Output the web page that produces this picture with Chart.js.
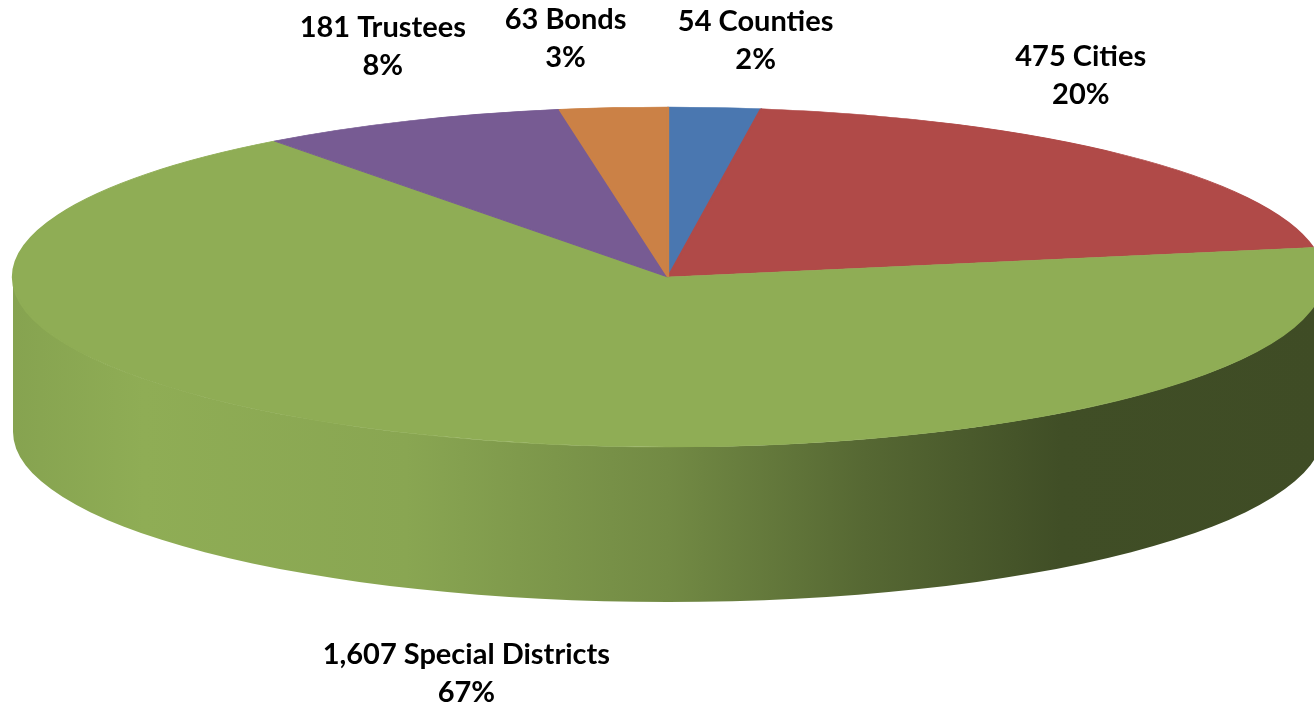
<!DOCTYPE html>
<html>
<head>
<meta charset="utf-8">
<script src="https://cdn.jsdelivr.net/npm/chart.js@4.4.0/dist/chart.umd.min.js"></script>
<style>
  html, body { margin: 0; padding: 0; background: #fff; }
</style>
</head>
<body>
<canvas id="pie" width="1314" height="709"></canvas>
<script>
const categories = ['Counties', 'Cities', 'Special Districts', 'Trustees', 'Bonds'];
const counts = [54, 475, 1607, 181, 63];
const countLabels = ['54', '475', '1,607', '181', '63'];
const percentLabels = ['2%', '20%', '67%', '8%', '3%'];
const sliceColors = ['#4a77b0', '#b04a48', '#8fad55', '#775b93', '#cb8146'];

// tilt of the 3d pie (ellipse radii and thickness)
const RX = 655, RY = 170, DEPTH = 155;
// where each label sits relative to the slice edge
const labelNudge = [[41, -67], [-43, -79], [39, 84], [-27, -74], [-48, -69]];
// side shading: position across the pie -> brightness factor
const sideShade = [[0, 0.94], [0.1, 1.0], [0.3, 0.96], [0.5, 0.8], [0.65, 0.6], [0.8, 0.45], [1, 0.44]];

function shade(hex, f) {
  const n = parseInt(hex.slice(1), 16);
  const c = [(n >> 16) & 255, (n >> 8) & 255, n & 255].map(v => Math.max(0, Math.min(255, Math.round(v * f))));
  return 'rgb(' + c.join(',') + ')';
}

const pie3d = {
  id: 'pie3d',
  beforeDatasetsDraw(chart) {
    const ctx = chart.ctx;
    const arcs = chart.getDatasetMeta(0).data;
    if (!arcs.length) return;
    const cx = arcs[0].x, cy = arcs[0].y, r = arcs[0].outerRadius;

    // side walls, only the front half is visible
    arcs.forEach((arc, i) => {
      const lo = Math.max(arc.startAngle, 0);
      const hi = Math.min(arc.endAngle, Math.PI);
      if (hi <= lo) return;
      const g = ctx.createLinearGradient(cx - RX, 0, cx + RX, 0);
      sideShade.forEach(s => g.addColorStop(s[0], shade(sliceColors[i], s[1])));
      ctx.save();
      ctx.beginPath();
      ctx.ellipse(cx, cy, RX, RY, 0, lo, hi);
      ctx.ellipse(cx, cy + DEPTH, RX, RY, 0, hi, lo, true);
      ctx.closePath();
      ctx.fillStyle = g;
      ctx.fill();
      ctx.restore();
    });

    // squash the flat pie into the top face
    ctx.save();
    ctx.translate(cx, cy);
    ctx.scale(RX / r, RY / r);
    ctx.translate(-cx, -cy);
  },
  afterDatasetsDraw(chart) {
    const ctx = chart.ctx;
    ctx.restore();
    const arcs = chart.getDatasetMeta(0).data;
    if (!arcs.length) return;
    const cx = arcs[0].x, cy = arcs[0].y;
    ctx.save();
    ctx.font = 'bold 29px Lato';
    ctx.fillStyle = '#000';
    ctx.textAlign = 'center';
    ctx.textBaseline = 'middle';
    arcs.forEach((arc, i) => {
      const mid = (arc.startAngle + arc.endAngle) / 2;
      const ax = cx + RX * Math.cos(mid);
      const ay = cy + RY * Math.sin(mid) + (Math.sin(mid) > 0 ? DEPTH : 0);
      const x = ax + labelNudge[i][0], y = ay + labelNudge[i][1];
      ctx.fillText(countLabels[i] + ' ' + categories[i], x, y - 19);
      ctx.fillText(percentLabels[i], x, y + 19);
    });
    ctx.restore();
  }
};

new Chart(document.getElementById('pie').getContext('2d'), {
  type: 'pie',
  data: {
    labels: categories,
    datasets: [{
      data: counts,
      backgroundColor: sliceColors,
      borderColor: sliceColors,
      borderWidth: 1,
      hoverOffset: 0,
      clip: false
    }]
  },
  options: {
    responsive: false,
    animation: false,
    devicePixelRatio: 1,
    events: [],
    layout: { padding: { left: 22, right: 0, top: 0, bottom: 155 } },
    plugins: {
      legend: { display: false },
      tooltip: { enabled: false }
    }
  },
  plugins: [pie3d]
});
</script>
</body>
</html>
